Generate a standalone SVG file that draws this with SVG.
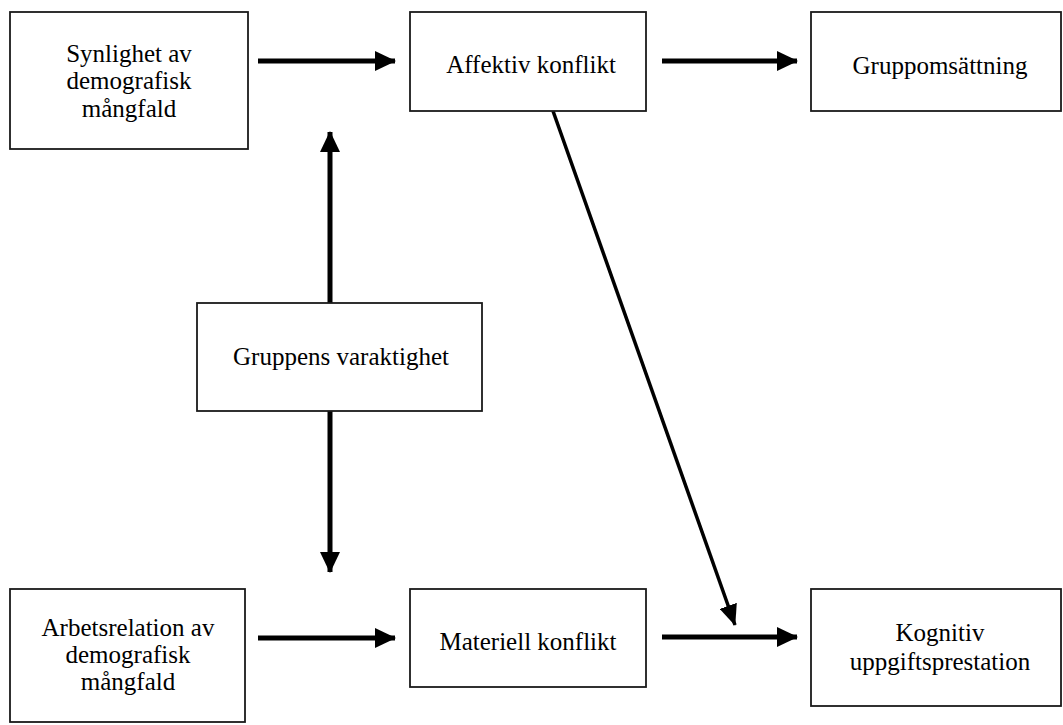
<svg xmlns="http://www.w3.org/2000/svg" width="1063" height="725" viewBox="0 0 1063 725">
<style>
.box{fill:#fff;stroke:#1a1a1a;stroke-width:1.8}
.t{font-family:"Liberation Serif","Times New Roman",serif;font-size:25px;fill:#000;text-anchor:middle}
.c{stroke:#000;stroke-width:5;fill:none}
.c2{stroke:#000;stroke-width:3.5;fill:none}
</style>
<defs>
<marker id="ah" markerWidth="4.2" markerHeight="4" refX="4" refY="2" orient="auto" markerUnits="strokeWidth"><path d="M0,0 L4.2,2 L0,4 Z" fill="#000"/></marker>
<marker id="ah2" markerWidth="6" markerHeight="5.2" refX="5.8" refY="2.6" orient="auto" markerUnits="strokeWidth"><path d="M0,0 L6,2.6 L0,5.2 Z" fill="#000"/></marker>
</defs>
<rect width="1063" height="725" fill="#fff"/>
<g id="connectors">
<line class="c" x1="258" y1="61" x2="395" y2="61" marker-end="url(#ah)"/>
<line class="c" x1="662" y1="61" x2="797" y2="61" marker-end="url(#ah)"/>
<line class="c" x1="258" y1="638" x2="395" y2="638" marker-end="url(#ah)"/>
<line class="c" x1="662" y1="637" x2="797" y2="637" marker-end="url(#ah)"/>
<line class="c" x1="330" y1="303" x2="330" y2="132" marker-end="url(#ah)"/>
<line class="c" x1="330" y1="411" x2="330" y2="572" marker-end="url(#ah)"/>
<line class="c2" x1="553" y1="111" x2="735" y2="625" marker-end="url(#ah2)"/>
</g>
<g id="n1"><rect class="box" x="10" y="12" width="238" height="137"/>
<text class="t" x="129" y="62">Synlighet av</text><text class="t" x="129" y="89">demografisk</text><text class="t" x="129" y="117">mångfald</text></g>
<g id="n2"><rect class="box" x="410" y="12" width="236" height="99"/>
<text class="t" x="531" y="73">Affektiv konflikt</text></g>
<g id="n3"><rect class="box" x="811" y="12" width="250" height="99"/>
<text class="t" x="940" y="74">Gruppomsättning</text></g>
<g id="n4"><rect class="box" x="197" y="303" width="285" height="108"/>
<text class="t" x="341" y="365">Gruppens varaktighet</text></g>
<g id="n5"><rect class="box" x="10" y="589" width="235" height="133"/>
<text class="t" x="128" y="636">Arbetsrelation av</text><text class="t" x="128" y="663">demografisk</text><text class="t" x="128" y="690">mångfald</text></g>
<g id="n6"><rect class="box" x="410" y="589" width="236" height="98"/>
<text class="t" x="528" y="650">Materiell konflikt</text></g>
<g id="n7"><rect class="box" x="811" y="589" width="250" height="117"/>
<text class="t" x="940" y="641">Kognitiv</text><text class="t" x="940" y="670">uppgiftsprestation</text></g>
</svg>
